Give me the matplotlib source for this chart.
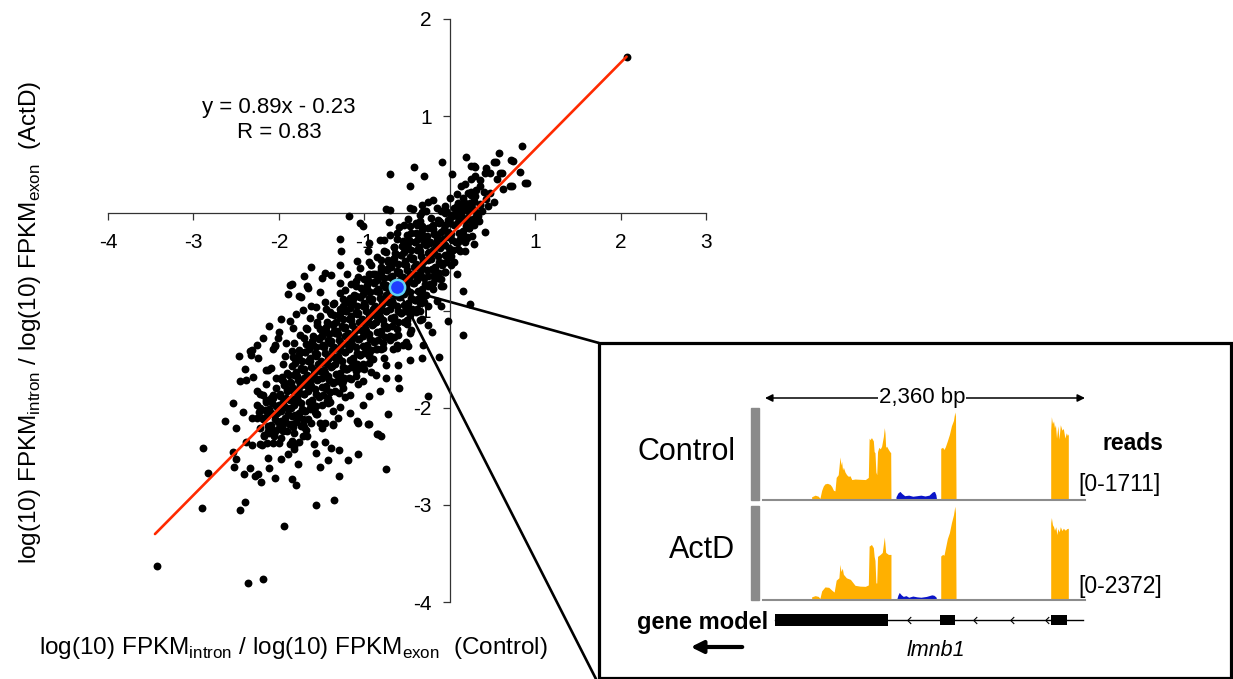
import matplotlib
matplotlib.use("Agg")
import matplotlib.pyplot as plt
from matplotlib.patches import Rectangle, ConnectionPatch, FancyArrowPatch
from matplotlib.path import Path

plt.rcParams['font.family'] = ['Liberation Sans', 'DejaVu Sans']
plt.rcParams['axes.unicode_minus'] = False

# ---------------- scatter data ----------------
# sparse points above / right of the cloud
pts_upper = [
    (2.07, 1.61), (0.85, 0.69), (0.58, 0.62), (0.72, 0.55), (0.52, 0.53), (0.43, 0.47), (0.59, 0.42),
    (0.82, 0.43), (0.88, 0.31), (0.70, 0.28), (0.19, 0.58), (0.25, 0.49), (0.30, 0.48), (0.41, 0.42),
    (-0.09, 0.53), (-0.42, 0.48), (-0.70, 0.40), (-0.30, 0.38), (0.03, 0.40), (-0.47, 0.28), (0.35, 0.34),
    (0.25, 0.35), (0.18, 0.30), (0.13, 0.28), (0.47, 0.21), (0.43, 0.15), (0.31, 0.24), (0.21, 0.21),
    (0.16, 0.16), (0.00, 0.16), (0.10, 0.11), (-0.20, 0.14), (-0.25, 0.12), (-0.75, 0.04), (-0.70, 0.03),
    (-1.18, -0.03), (-1.05, -0.10), (-1.02, -0.13), (-0.71, -0.09), (-0.59, -0.14), (-0.49, -0.06),
    (-0.43, 0.04), (-0.33, 0.09), (-0.47, 0.05), (0.41, -0.19), (0.33, -0.03), (0.25, -0.08), (0.20, -0.05),
    (0.12, -0.39), (0.18, -0.39), (0.02, -0.53), (-0.53, -0.12), (-0.82, -0.27), (-0.77, -0.27),
    (-0.94, -0.31), (-1.28, -0.26), (-1.27, -0.39), (-1.29, -0.53), (-0.96, -0.39), (0.74, 0.54),
    (0.28, 0.49), (0.54, 0.53), (0.61, 0.42), (0.47, 0.42), (0.73, 0.28), (0.90, 0.31),
    (0.05, 0.05), (0.10, 0.02), (0.15, 0.08), (0.22, 0.05), (0.27, 0.12), (0.35, 0.10), (0.38, 0.02),
    (0.30, -0.05), (0.08, 0.20), (0.05, -0.02), (-0.05, 0.08), (-0.10, 0.02), (-0.15, 0.05), (-0.28, 0.02),
    (-0.35, -0.02), (-0.40, -0.10), (-0.22, -0.05), (0.40, 0.22), (0.36, 0.28), (0.45, 0.08), (0.52, 0.12),
    (0.55, 0.35), (0.62, 0.25), (0.30, 0.38),
    (-0.85, -0.45), (-0.75, -0.40), (-0.65, -0.35), (-0.55, -0.28), (-0.45, -0.20), (-0.38, -0.12),
    (-0.62, -0.20), (-0.72, -0.50), (-0.80, -0.58), (-0.90, -0.62), (-1.00, -0.68), (-0.95, -0.50),
    (-0.70, -0.22), (-0.52, -0.38), (-0.30, -0.25), (-0.18, -0.20), (-0.12, -0.08), (-0.05, -0.12),
]

# sparse points left of the cloud
pts_left = [
    (-1.62, -0.55), (-1.70, -0.65), (-1.46, -0.61), (-1.39, -0.63), (-1.49, -0.67), (-1.52, -0.81),
    (-1.66, -0.77), (-1.76, -0.85), (-1.85, -0.73), (-1.29, -0.72), (-1.15, -0.73), (-1.09, -0.49),
    (-1.05, -0.56), (-1.87, -0.74), (-1.67, -0.75), (-1.74, -0.86), (-1.89, -0.83), (-1.97, -1.09),
    (-1.87, -1.11), (-1.83, -1.18), (-2.34, -1.42), (-2.26, -1.35), (-2.05, -1.37), (-2.07, -1.40),
    (-2.15, -1.61), (-2.09, -1.59), (-2.26, -1.83), (-2.19, -1.87), (-2.32, -2.11), (-2.22, -2.00),
    (-1.92, -1.33), (-2.04, -1.36), (-2.31, -1.41), (-2.33, -1.46), (-2.24, -1.49), (-2.47, -1.47),
    (-2.46, -1.73), (-2.38, -1.72), (-2.15, -1.76), (-2.22, -1.86), (-2.54, -1.95), (-2.42, -2.04),
    (-2.63, -2.14), (-2.50, -2.21), (-2.26, -1.97), (-2.26, -2.11), (-2.13, -1.61), (-2.03, -1.69),
    (-2.09, -1.90), (-2.11, -1.16), (-2.01, -1.28), (-1.93, -1.47), (-1.64, -1.08), (-1.56, -0.96),
    (-1.46, -0.91), (-1.39, -1.04), (-1.72, -0.99), (-1.80, -1.04), (-1.29, -0.82), (-1.17, -0.87),
    (-1.35, -1.21), (-1.50, -1.25), (-1.60, -1.35), (-1.95, -1.55), (-2.00, -1.22), (-1.75, -1.25),
    (-1.68, -1.18), (-1.55, -1.12), (-1.45, -0.98), (-1.35, -0.92), (-1.25, -0.95), (-1.10, -0.85),
    (-1.62, -0.95), (-2.18, -1.28), (-2.40, -1.60), (-2.30, -1.68), (-1.20, -0.62), (-1.10, -0.70),
    (-0.98, -0.80),
]

# sparse points below / right of the cloud
pts_right = [
    (-1.09, -2.14), (-0.96, -2.17), (-0.84, -2.27), (-1.17, -2.05), (-1.37, -2.17), (-1.31, -2.11),
    (-0.59, -1.80), (-0.61, -1.69), (-0.25, -1.88), (-0.47, -1.51), (-0.33, -1.49), (-0.31, -1.35),
    (-0.13, -1.48), (-0.21, -1.22), (-0.02, -1.11), (0.16, -1.25), (-0.10, -0.75), (-0.21, -0.73),
    (0.16, -0.80), (-0.72, -2.07), (-1.01, -1.97), (-1.50, -2.21), (0.24, -0.93), (-0.61, -1.56),
    (-0.66, -1.40), (-0.49, -1.37), (-0.74, -1.69), (-1.01, -1.73), (-0.86, -1.66), (-0.74, -1.56),
    (-0.82, -1.83), (-0.94, -1.88), (-1.17, -1.87), (-1.25, -1.73), (-1.05, -1.59), (-0.62, -1.39),
    (-0.51, -1.32), (-0.78, -1.39), (-1.29, -1.99), (-1.44, -1.93), (-1.56, -2.07), (-1.72, -2.17),
    (-1.64, -2.00), (-0.75, -2.63), (-0.80, -2.29), (-0.08, -0.75), (-0.14, -0.67), (-0.23, -0.73),
    (-0.20, -0.72), (-0.30, -0.85), (-0.20, -0.78), (-0.10, -0.68), (-0.25, -0.95), (-0.40, -1.02),
    (-0.15, -0.90), (-0.05, -0.60), (0.00, -0.45), (0.05, -0.50), (-0.35, -0.92), (-0.50, -1.10),
    (-0.45, -1.20), (-0.60, -1.25), (-0.70, -1.30), (-0.55, -1.35), (-0.90, -1.50), (-1.00, -1.60),
    (-1.15, -1.70), (-1.30, -1.85), (-1.42, -1.95), (-0.85, -1.40), (-0.95, -1.45), (-1.10, -1.55),
    (-1.20, -1.60), (-0.35, -1.10), (-0.25, -1.15), (-0.10, -0.95), (0.08, -0.62), (0.10, -0.30),
    (0.20, -0.25), (0.28, -0.32),
]

# sparse points in the lower-left tail
pts_lower = [
    (-3.43, -3.63), (-2.36, -3.80), (-2.19, -3.76), (-1.94, -3.22), (-2.90, -3.03), (-2.45, -3.05),
    (-2.40, -2.97), (-1.56, -3.00), (-1.35, -2.95), (-2.89, -2.41), (-2.83, -2.67), (-2.54, -2.46),
    (-2.52, -2.61), (-2.50, -2.53), (-2.41, -2.68), (-2.34, -2.62), (-2.28, -2.70), (-2.24, -2.68),
    (-2.21, -2.77), (-2.04, -2.72), (-1.85, -2.73), (-1.80, -2.80), (-2.11, -2.62), (-2.13, -2.52),
    (-1.98, -2.53), (-1.78, -2.58), (-1.52, -2.61), (-1.42, -2.54), (-1.30, -2.70), (-1.19, -2.54),
    (-1.07, -2.48), (-0.85, -2.27), (-1.30, -2.44), (-1.39, -2.41), (-1.46, -2.35), (-1.57, -2.47),
    (-1.59, -2.37), (-1.89, -2.48), (-1.87, -2.37), (-1.82, -2.39), (-1.76, -2.35), (-2.07, -2.36),
    (-2.00, -2.36), (-2.13, -2.24), (-2.22, -2.37), (-2.32, -2.38), (-2.38, -2.35), (-2.06, -2.27),
    (-1.95, -2.24), (-1.83, -2.20), (-1.72, -2.29), (-1.68, -2.23), (-1.62, -2.16), (-1.46, -2.16),
    (-1.37, -2.18), (-1.07, -2.16), (-0.94, -2.17),
]

# points along the upper and lower edges of the dense band
pts_edges = [
    (-1.85, -1.42), (-1.82, -1.33), (-1.70, -1.28), (-1.67, -1.19), (-1.55, -1.15), (-1.52, -1.06),
    (-1.40, -1.02), (-1.37, -0.93), (-1.25, -0.88), (-1.22, -0.79), (-1.10, -0.75), (-1.07, -0.66),
    (-0.95, -0.62), (-0.92, -0.53), (-0.80, -0.48), (-0.77, -0.39), (-0.65, -0.35), (-0.62, -0.26),
    (-0.50, -0.22), (-0.47, -0.13), (-0.35, -0.08), (-0.32, 0.01),
    (-1.85, -2.34), (-1.82, -2.43), (-1.70, -2.20), (-1.67, -2.29), (-1.55, -2.07), (-1.52, -2.16),
    (-1.40, -1.94), (-1.37, -2.03), (-1.25, -1.80), (-1.22, -1.89), (-1.10, -1.67), (-1.07, -1.76),
    (-0.95, -1.54), (-0.92, -1.63), (-0.80, -1.40), (-0.77, -1.49), (-0.65, -1.27), (-0.62, -1.36),
    (-0.50, -1.14), (-0.47, -1.23), (-0.35, -1.00), (-0.32, -1.09),
]

# the dense (solid black) core of the cloud
pts_core = [
    (-2.20, -2.38), (-2.17, -2.29), (-2.22, -2.21), (-2.19, -2.12), (-2.23, -2.04),
    (-2.12, -2.26), (-2.09, -2.18), (-2.14, -2.09), (-2.11, -2.01), (-2.15, -1.92),
    (-2.04, -2.24), (-2.01, -2.15), (-2.06, -2.07), (-2.03, -1.98), (-2.07, -1.90),
    (-1.96, -2.20), (-1.93, -2.11), (-1.98, -2.03), (-1.95, -1.94), (-1.99, -1.86), (-1.94, -1.77), (-1.96, -1.68),
    (-1.88, -2.17), (-1.85, -2.09), (-1.90, -2.00), (-1.87, -1.92), (-1.91, -1.83), (-1.86, -1.75), (-1.88, -1.66),
    (-1.80, -2.15), (-1.77, -2.06), (-1.82, -1.97), (-1.79, -1.89), (-1.83, -1.80), (-1.78, -1.72), (-1.80, -1.63), (-1.81, -1.54), (-1.77, -1.45),
    (-1.72, -2.12), (-1.69, -2.03), (-1.74, -1.95), (-1.71, -1.86), (-1.75, -1.78), (-1.70, -1.69), (-1.72, -1.61), (-1.73, -1.52), (-1.69, -1.43),
    (-1.64, -2.01), (-1.61, -1.92), (-1.66, -1.83), (-1.63, -1.75), (-1.67, -1.66), (-1.62, -1.58), (-1.64, -1.49), (-1.65, -1.40), (-1.61, -1.31),
    (-1.56, -1.98), (-1.53, -1.89), (-1.58, -1.81), (-1.55, -1.72), (-1.59, -1.64), (-1.54, -1.55), (-1.56, -1.47), (-1.57, -1.38), (-1.53, -1.29),
    (-1.48, -1.87), (-1.45, -1.78), (-1.50, -1.69), (-1.47, -1.61), (-1.51, -1.52), (-1.46, -1.44), (-1.48, -1.35), (-1.49, -1.26), (-1.45, -1.17),
    (-1.40, -1.84), (-1.37, -1.75), (-1.42, -1.67), (-1.39, -1.58), (-1.43, -1.50), (-1.38, -1.41), (-1.40, -1.33), (-1.41, -1.24), (-1.37, -1.15),
    (-1.32, -1.73), (-1.29, -1.64), (-1.34, -1.55), (-1.31, -1.47), (-1.35, -1.38), (-1.30, -1.30), (-1.32, -1.21), (-1.33, -1.12), (-1.29, -1.03),
    (-1.24, -1.69), (-1.21, -1.60), (-1.26, -1.52), (-1.23, -1.43), (-1.27, -1.35), (-1.22, -1.26), (-1.24, -1.18), (-1.25, -1.09), (-1.21, -1.00),
    (-1.16, -1.58), (-1.13, -1.49), (-1.18, -1.40), (-1.15, -1.32), (-1.19, -1.23), (-1.14, -1.15), (-1.16, -1.06), (-1.17, -0.97), (-1.13, -0.88),
    (-1.08, -1.55), (-1.05, -1.46), (-1.10, -1.38), (-1.07, -1.29), (-1.11, -1.21), (-1.06, -1.12), (-1.08, -1.04), (-1.09, -0.95), (-1.05, -0.86),
    (-1.00, -1.44), (-0.97, -1.35), (-1.02, -1.26), (-0.99, -1.18), (-1.03, -1.09), (-0.98, -1.01), (-1.00, -0.92), (-1.01, -0.83), (-0.97, -0.74),
    (-0.92, -1.41), (-0.89, -1.32), (-0.94, -1.24), (-0.91, -1.15), (-0.95, -1.07), (-0.90, -0.98), (-0.92, -0.90), (-0.93, -0.81), (-0.89, -0.72),
    (-0.84, -1.30), (-0.81, -1.21), (-0.86, -1.12), (-0.83, -1.04), (-0.87, -0.95), (-0.82, -0.87), (-0.84, -0.78), (-0.85, -0.69), (-0.81, -0.60),
    (-0.76, -1.27), (-0.73, -1.18), (-0.78, -1.10), (-0.75, -1.01), (-0.79, -0.93), (-0.74, -0.84), (-0.76, -0.76), (-0.77, -0.67), (-0.73, -0.58),
    (-0.68, -1.16), (-0.65, -1.07), (-0.70, -0.98), (-0.67, -0.90), (-0.71, -0.81), (-0.66, -0.73), (-0.68, -0.64), (-0.69, -0.55), (-0.65, -0.46),
    (-0.60, -1.12), (-0.57, -1.03), (-0.62, -0.95), (-0.59, -0.86), (-0.63, -0.78), (-0.58, -0.69), (-0.60, -0.61), (-0.61, -0.52), (-0.57, -0.43),
    (-0.52, -1.01), (-0.49, -0.92), (-0.54, -0.83), (-0.51, -0.75), (-0.55, -0.66), (-0.50, -0.58), (-0.52, -0.49), (-0.53, -0.40), (-0.49, -0.31),
    (-0.44, -0.98), (-0.41, -0.89), (-0.46, -0.81), (-0.43, -0.72), (-0.47, -0.64), (-0.42, -0.55), (-0.44, -0.47), (-0.45, -0.38), (-0.41, -0.29),
    (-0.36, -0.87), (-0.33, -0.78), (-0.38, -0.69), (-0.35, -0.61), (-0.39, -0.52), (-0.34, -0.44), (-0.36, -0.35), (-0.37, -0.26), (-0.33, -0.17),
    (-0.28, -0.84), (-0.25, -0.75), (-0.30, -0.67), (-0.27, -0.58), (-0.31, -0.50), (-0.26, -0.41), (-0.28, -0.33), (-0.29, -0.24), (-0.25, -0.15),
    (-0.20, -0.64), (-0.17, -0.55), (-0.22, -0.47), (-0.19, -0.38), (-0.23, -0.30), (-0.18, -0.21), (-0.20, -0.12),
    (-0.12, -0.61), (-0.09, -0.53), (-0.14, -0.44), (-0.11, -0.36), (-0.15, -0.27), (-0.10, -0.19), (-0.12, -0.10),
    (-0.04, -0.50), (-0.01, -0.41), (-0.06, -0.33), (-0.03, -0.24), (-0.07, -0.16), (-0.02, -0.07), (-0.04, 0.02),
    (0.04, -0.38), (0.07, -0.29), (0.02, -0.21), (0.05, -0.12), (0.01, -0.04),
    (0.12, -0.26), (0.15, -0.18), (0.10, -0.09), (0.13, -0.01), (0.09, 0.08),
    (0.20, -0.24), (0.23, -0.15), (0.18, -0.07), (0.21, 0.02), (0.17, 0.10),
    (0.28, -0.12), (0.31, -0.04), (0.26, 0.05), (0.29, 0.13), (0.25, 0.22),
]

# second pass over the core, between the columns above (one line per column)
core2_x = [
    -2.14, -2.17, -2.13, -2.18, -2.16, -2.15,
    -2.06, -2.09, -2.05, -2.10, -2.08, -2.07,
    -1.98, -2.01, -1.97, -2.02, -2.00, -1.99, -2.03, -1.98,
    -1.90, -1.93, -1.89, -1.94, -1.92, -1.91, -1.95, -1.90,
    -1.82, -1.85, -1.81, -1.86, -1.84, -1.83, -1.87, -1.82, -1.85, -1.84,
    -1.74, -1.77, -1.73, -1.78, -1.76, -1.75, -1.79, -1.74, -1.77, -1.76,
    -1.66, -1.69, -1.65, -1.70, -1.68, -1.67, -1.71, -1.66, -1.69, -1.68,
    -1.58, -1.61, -1.57, -1.62, -1.60, -1.59, -1.63, -1.58, -1.61, -1.60,
    -1.50, -1.53, -1.49, -1.54, -1.52, -1.51, -1.55, -1.50, -1.53, -1.52,
    -1.42, -1.45, -1.41, -1.46, -1.44, -1.43, -1.47, -1.42, -1.45, -1.44,
    -1.34, -1.37, -1.33, -1.38, -1.36, -1.35, -1.39, -1.34, -1.37, -1.36,
    -1.26, -1.29, -1.25, -1.30, -1.28, -1.27, -1.31, -1.26, -1.29, -1.28,
    -1.18, -1.21, -1.17, -1.22, -1.20, -1.19, -1.23, -1.18, -1.21, -1.20,
    -1.10, -1.13, -1.09, -1.14, -1.12, -1.11, -1.15, -1.10, -1.13, -1.12,
    -1.02, -1.05, -1.01, -1.06, -1.04, -1.03, -1.07, -1.02, -1.05, -1.04,
    -0.94, -0.97, -0.93, -0.98, -0.96, -0.95, -0.99, -0.94, -0.97, -0.96,
    -0.86, -0.89, -0.85, -0.90, -0.88, -0.87, -0.91, -0.86, -0.89, -0.88,
    -0.78, -0.81, -0.77, -0.82, -0.80, -0.79, -0.83, -0.78, -0.81, -0.80,
    -0.70, -0.73, -0.69, -0.74, -0.72, -0.71, -0.75, -0.70, -0.73, -0.72,
    -0.62, -0.65, -0.61, -0.66, -0.64, -0.63, -0.67, -0.62, -0.65, -0.64,
    -0.54, -0.57, -0.53, -0.58, -0.56, -0.55, -0.59, -0.54, -0.57, -0.56,
    -0.46, -0.49, -0.45, -0.50, -0.48, -0.47, -0.51, -0.46, -0.49, -0.48,
    -0.38, -0.41, -0.37, -0.42, -0.40, -0.39, -0.43, -0.38, -0.41, -0.40,
    -0.30, -0.33, -0.29, -0.34, -0.32, -0.31, -0.35, -0.30, -0.33, -0.32,
    -0.22, -0.25, -0.21, -0.26, -0.24, -0.23, -0.27, -0.22,
    -0.14, -0.17, -0.13, -0.18, -0.16, -0.15, -0.19, -0.14,
    -0.06, -0.09, -0.05, -0.10, -0.08, -0.07, -0.11, -0.06,
    0.02, -0.01, 0.03, -0.02, 0.00, 0.01,
    0.10, 0.07, 0.11, 0.06, 0.08, 0.09,
    0.18, 0.15, 0.19, 0.14, 0.16, 0.17,
    0.26, 0.23, 0.27, 0.22, 0.24, 0.25,
    0.34, 0.31, 0.35, 0.30,
]
core2_y = [
    -2.36, -2.28, -2.19, -2.11, -2.02, -1.94,
    -2.29, -2.21, -2.12, -2.04, -1.95, -1.87,
    -2.31, -2.22, -2.14, -2.05, -1.97, -1.88, -1.80, -1.71,
    -2.24, -2.15, -2.07, -1.98, -1.90, -1.81, -1.73, -1.64,
    -2.26, -2.17, -2.08, -2.00, -1.91, -1.83, -1.74, -1.66, -1.57, -1.48,
    -2.19, -2.10, -2.01, -1.93, -1.84, -1.76, -1.67, -1.59, -1.50, -1.41,
    -2.12, -2.03, -1.94, -1.86, -1.77, -1.69, -1.60, -1.52, -1.43, -1.34,
    -2.04, -1.95, -1.86, -1.78, -1.69, -1.61, -1.52, -1.44, -1.35, -1.26,
    -1.97, -1.88, -1.79, -1.71, -1.62, -1.54, -1.45, -1.37, -1.28, -1.19,
    -1.90, -1.81, -1.72, -1.64, -1.55, -1.47, -1.38, -1.30, -1.21, -1.12,
    -1.83, -1.74, -1.65, -1.57, -1.48, -1.40, -1.31, -1.23, -1.14, -1.05,
    -1.76, -1.67, -1.58, -1.50, -1.41, -1.33, -1.24, -1.16, -1.07, -0.98,
    -1.69, -1.60, -1.51, -1.43, -1.34, -1.26, -1.17, -1.09, -1.00, -0.91,
    -1.62, -1.53, -1.44, -1.36, -1.27, -1.19, -1.10, -1.02, -0.93, -0.84,
    -1.55, -1.46, -1.37, -1.29, -1.20, -1.12, -1.03, -0.95, -0.86, -0.77,
    -1.47, -1.38, -1.29, -1.21, -1.12, -1.04, -0.95, -0.87, -0.78, -0.69,
    -1.40, -1.31, -1.22, -1.14, -1.05, -0.97, -0.88, -0.80, -0.71, -0.62,
    -1.33, -1.24, -1.15, -1.07, -0.98, -0.90, -0.81, -0.73, -0.64, -0.55,
    -1.26, -1.17, -1.08, -1.00, -0.91, -0.83, -0.74, -0.66, -0.57, -0.48,
    -1.19, -1.10, -1.01, -0.93, -0.84, -0.76, -0.67, -0.59, -0.50, -0.41,
    -1.12, -1.03, -0.94, -0.86, -0.77, -0.69, -0.60, -0.52, -0.43, -0.34,
    -1.05, -0.96, -0.87, -0.79, -0.70, -0.62, -0.53, -0.45, -0.36, -0.27,
    -0.98, -0.89, -0.80, -0.72, -0.63, -0.55, -0.46, -0.38, -0.29, -0.20,
    -0.91, -0.82, -0.73, -0.65, -0.56, -0.48, -0.39, -0.31, -0.22, -0.13,
    -0.74, -0.65, -0.57, -0.48, -0.40, -0.31, -0.23, -0.14,
    -0.67, -0.58, -0.50, -0.41, -0.33, -0.24, -0.16, -0.07,
    -0.60, -0.51, -0.43, -0.34, -0.26, -0.17, -0.09, 0.00,
    -0.44, -0.36, -0.27, -0.19, -0.10, -0.02,
    -0.37, -0.29, -0.20, -0.12, -0.03, 0.05,
    -0.30, -0.22, -0.13, -0.05, 0.04, 0.12,
    -0.23, -0.15, -0.06, 0.02, 0.11, 0.19,
    -0.08, 0.01, 0.09, 0.18,
]

highlight = (-0.62, -0.76)          # Lmnb1
fit_slope, fit_intercept = 0.89, -0.23
fit_xrange = (-3.45, 2.07)
x_ticks = [-4, -3, -2, -1, 1, 2, 3]
y_ticks = [-4, -3, -2, -1, 1, 2]

# ---------------- coverage tracks (bp, reads) ----------------
span_bp = 2360
ctrl_ex1_x = [344, 344, 370, 393, 405, 418, 430, 442, 460, 480, 492, 505, 516, 525, 540, 553, 560, 565,
              572, 578, 590, 602, 615, 627, 640, 664, 700, 740, 762, 768, 774, 785, 799, 805, 811, 818,
              824, 830, 840, 850, 860, 873, 880, 885, 890, 897, 910, 920, 927, 929]
ctrl_ex1_y = [0, 60, 90, 70, 30, 180, 260, 300, 310, 290, 250, 180, 170, 420, 470, 800, 650, 720,
              560, 610, 520, 470, 440, 450, 380, 390, 385, 380, 420, 1150, 1120, 1160, 1100, 900, 880, 520,
              470, 900, 980, 950, 1000, 1180, 1345, 1240, 980, 1000, 940, 900, 880, 0]
ctrl_intron_x = [966, 966, 980, 995, 1010, 1030, 1060, 1090, 1120, 1150, 1180, 1210, 1235, 1250, 1260, 1266]
ctrl_intron_y = [0, 60, 130, 160, 120, 80, 90, 70, 80, 90, 75, 90, 150, 160, 100, 0]
ctrl_ex2_x = [1296, 1296, 1310, 1320, 1330, 1345, 1360, 1375, 1390, 1400, 1405, 1409]
ctrl_ex2_y = [0, 960, 980, 940, 990, 1100, 1220, 1380, 1480, 1637, 1560, 0]
ctrl_ex3_x = [2107, 2107, 2112, 2120, 2128, 2135, 2142, 2150, 2160, 2168, 2178, 2190, 2200, 2212, 2222, 2230, 2237, 2237]
ctrl_ex3_y = [0, 1300, 1550, 1420, 1470, 1340, 1400, 1150, 1380, 1130, 1400, 1300, 1330, 1150, 1250, 1200, 1230, 0]

actd_ex1_x = [344, 344, 370, 393, 405, 418, 442, 470, 492, 510, 525, 545, 553, 560, 570, 578, 600, 630,
              664, 700, 740, 762, 768, 785, 799, 805, 811, 818, 824, 830, 850, 865, 880, 890, 910, 929, 929]
actd_ex1_y = [0, 80, 110, 90, 40, 230, 330, 320, 250, 200, 500, 560, 900, 720, 800, 650, 560, 520,
              370, 350, 345, 380, 1360, 1400, 1320, 1100, 1000, 430, 430, 1100, 1150, 1200, 1590, 1200, 1150, 1150, 0]
actd_intron_x = [970, 980, 990, 1005, 1020, 1040, 1060, 1090, 1120, 1150, 1190, 1230, 1245, 1260, 1268]
actd_intron_y = [0, 120, 190, 130, 90, 110, 70, 100, 80, 70, 90, 130, 120, 80, 0]
actd_ex2_x = [1296, 1296, 1310, 1320, 1330, 1345, 1360, 1375, 1390, 1400, 1405, 1409]
actd_ex2_y = [0, 1110, 1150, 1130, 1300, 1550, 1700, 1950, 2150, 2366, 2200, 0]
actd_ex3_x = [2107, 2107, 2112, 2120, 2128, 2135, 2145, 2152, 2160, 2170, 2178, 2190, 2200, 2215, 2225, 2237, 2237]
actd_ex3_y = [0, 1950, 2080, 1900, 1850, 1760, 1850, 1650, 1800, 1720, 1850, 1750, 1810, 1760, 1800, 1810, 0]

gene_span = (74, 2345)
gene_blocks = [(74, 907, 0.42), (1291, 1401, 0.36), (2109, 2227, 0.36)]
strand_marks = [1062, 1549, 1822, 2080]

ORANGE = '#ffb000'
BLUE = '#0a14c8'

W, H = 1233, 679


def fx(px):
    return px / W


def fy(py):
    return 1 - py / H


fig = plt.figure(figsize=(W / 100, H / 100), dpi=100)

# ---------------- main scatter ----------------
ax = fig.add_axes([fx(108), fy(602), fx(706) - fx(108), (602 - 19) / H], zorder=1)
ax.patch.set_visible(False)
ax.set_xlim(-4, 3)
ax.set_ylim(-4, 2)
for s in ['top', 'right']:
    ax.spines[s].set_visible(False)
ax.spines['left'].set_position(('data', 0))
ax.spines['bottom'].set_position(('data', 0))
for s in ['left', 'bottom']:
    ax.spines[s].set_color('#333333')
    ax.spines[s].set_linewidth(0.9)
ax.set_xticks(x_ticks)
ax.set_yticks(y_ticks)
ax.tick_params(axis='both', direction='out', length=5, width=0.9, color='#333333', labelsize=15)
ax.tick_params(axis='x', pad=9)
ax.tick_params(axis='y', pad=8)

ax.scatter(core2_x, core2_y, s=32, color='black', linewidths=0, zorder=3)
for group in [pts_core, pts_edges, pts_upper, pts_left, pts_right, pts_lower]:
    gx = [p[0] for p in group]
    gy = [p[1] for p in group]
    ax.scatter(gx, gy, s=32, color='black', linewidths=0, zorder=3)

lx = list(fit_xrange)
ly = [fit_slope * v + fit_intercept for v in lx]
ax.plot(lx, ly, color='#ff2a00', lw=1.9, zorder=4, solid_capstyle='round')
ax.scatter([highlight[0]], [highlight[1]], s=120, color='#1f3dff', edgecolors='#62d2f2',
           linewidths=1.8, zorder=5)

ax.text(-2.0, 1.09, 'y = 0.89x - 0.23', ha='center', va='center', fontsize=16)
ax.text(-2.0, 0.83, 'R = 0.83', ha='center', va='center', fontsize=16)

fig.text(fx(30), fy(322), r'log(10) FPKM$_\mathregular{intron}$ / log(10) FPKM$_\mathregular{exon}$  (ActD)',
         rotation=90, ha='center', va='center', fontsize=17.5)
fig.text(fx(293), fy(648), r'log(10) FPKM$_\mathregular{intron}$ / log(10) FPKM$_\mathregular{exon}$  (Control)',
         ha='center', va='center', fontsize=17.5)

# lines from the highlighted gene to the inset box
for corner in [(599, 343), (596, 679)]:
    con = ConnectionPatch(xyA=highlight, coordsA=ax.transData,
                          xyB=(fx(corner[0]), fy(corner[1])), coordsB=fig.transFigure,
                          color='black', lw=1.9, zorder=0.5)
    fig.add_artist(con)

# ---------------- inset box ----------------
fig.add_artist(Rectangle((fx(599), fy(678)), fx(1231) - fx(599), fy(343) - fy(678),
                         transform=fig.transFigure, facecolor='white', edgecolor='black',
                         lw=2.3, zorder=2))


def track_axes(top, base, ymax):
    a = fig.add_axes([fx(765), fy(base), fx(1085) - fx(765), (base - top) / H], zorder=3)
    a.set_xlim(0, span_bp)
    a.set_ylim(0, ymax)
    a.axis('off')
    a.axhline(0, xmin=-0.007, xmax=1.0, color='#8c8c8c', lw=1.5, clip_on=False)
    a.add_patch(Rectangle((-0.044, 0), 0.025, 1, transform=a.transAxes, color='#8a8a8a',
                          clip_on=False))
    return a


t1 = track_axes(408, 500, 1711)
t1.fill_between(ctrl_ex1_x, ctrl_ex1_y, 0, color=ORANGE, lw=0)
t1.fill_between(ctrl_intron_x, ctrl_intron_y, 0, color=BLUE, lw=0)
t1.fill_between(ctrl_ex2_x, ctrl_ex2_y, 0, color=ORANGE, lw=0)
t1.fill_between(ctrl_ex3_x, ctrl_ex3_y, 0, color=ORANGE, lw=0)

t2 = track_axes(506, 600, 2372)
t2.fill_between(actd_ex1_x, actd_ex1_y, 0, color=ORANGE, lw=0)
t2.fill_between(actd_intron_x, actd_intron_y, 0, color=BLUE, lw=0)
t2.fill_between(actd_ex2_x, actd_ex2_y, 0, color=ORANGE, lw=0)
t2.fill_between(actd_ex3_x, actd_ex3_y, 0, color=ORANGE, lw=0)

# scale bar
hdr = fig.add_axes([fx(765), fy(410), fx(1085) - fx(765), 24 / H], zorder=3)
hdr.set_xlim(0, span_bp)
hdr.set_ylim(0, 1)
hdr.axis('off')
hdr.annotate('', xy=(0, 0.5), xytext=(span_bp, 0.5),
             arrowprops=dict(arrowstyle='<|-|>', color='black', lw=1.1, mutation_scale=11,
                             shrinkA=0, shrinkB=0))
hdr.text(span_bp / 2 - 20, 0.5, '2,360 bp', ha='center', va='center', fontsize=16,
         bbox=dict(facecolor='white', edgecolor='none', pad=0.5))

# gene model
gm = fig.add_axes([fx(765), fy(635), fx(1085) - fx(765), 30 / H], zorder=3)
gm.set_xlim(0, span_bp)
gm.set_ylim(-1, 1)
gm.axis('off')
gm.plot(list(gene_span), [0, 0], color='black', lw=1.0)
for b0, b1, h in gene_blocks:
    gm.add_patch(Rectangle((b0, -h), b1 - b0, 2 * h, color='black', lw=0))
chevron = Path([(0.5, 1), (-0.5, 0), (0.5, -1)], [Path.MOVETO, Path.LINETO, Path.LINETO])
gm.plot(strand_marks, [0] * len(strand_marks), ls='none', marker=chevron, markersize=5,
        markerfacecolor='none', markeredgecolor='black', markeredgewidth=0.8)

# inset labels
fig.text(fx(735), fy(452), 'Control', ha='right', va='center', fontsize=22, zorder=4)
fig.text(fx(735), fy(550), 'ActD', ha='right', va='center', fontsize=22, zorder=4)
fig.text(fx(1133), fy(443), 'reads', ha='center', va='center', fontsize=16.5,
         fontweight='bold', zorder=4)
fig.text(fx(1119), fy(484), '[0-1711]', ha='center', va='center', fontsize=16.5, zorder=4)
fig.text(fx(1120), fy(586), '[0-2372]', ha='center', va='center', fontsize=16.5, zorder=4)
fig.text(fx(768), fy(622), 'gene model', ha='right', va='center', fontsize=17,
         fontweight='bold', zorder=4)
fig.text(fx(936), fy(651), 'lmnb1', ha='center', va='center', fontsize=15.5,
         fontstyle='italic', zorder=4)
fig.add_artist(FancyArrowPatch(
    (fx(745), fy(647)), (fx(688), fy(647)), transform=fig.transFigure,
    arrowstyle='-|>', mutation_scale=18, lw=3, color='black', zorder=4))

fig.savefig('out.png', dpi=100)
